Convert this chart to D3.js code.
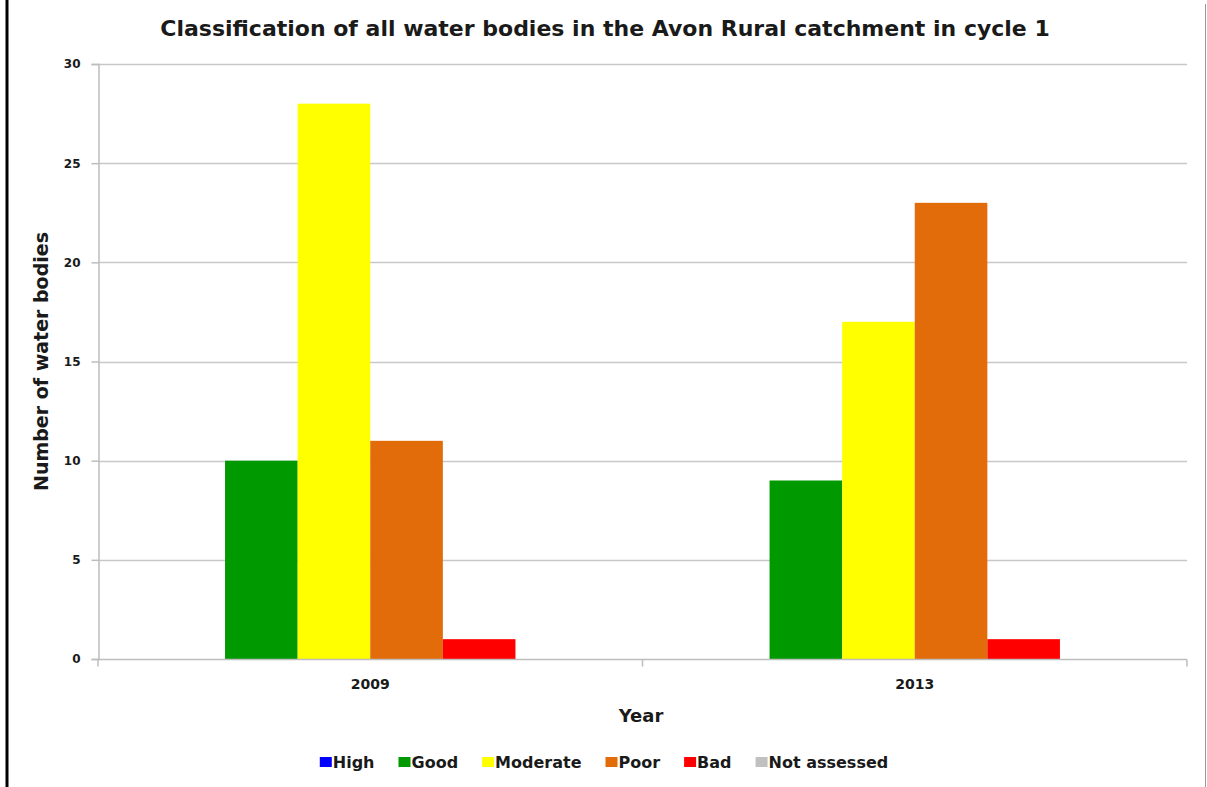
<!DOCTYPE html>
<html>
<head>
<meta charset="utf-8">
<script src="https://cdn.jsdelivr.net/npm/d3@7"></script>
<style>
  body { margin: 0; background: #fff; }
  text { font-family: "DejaVu Sans", Verdana, sans-serif; fill: #1a1a1a; }
</style>
</head>
<body>
<script>
// chart data
const years = ['2009', '2013']
const classes = ['High', 'Good', 'Moderate', 'Poor', 'Bad', 'Not assessed']
const classColors = ['#0000ff', '#009900', '#ffff00', '#e36c0a', '#ff0000', '#c0c0c0']
const counts2009 = [0, 10, 28, 11, 1, 0]
const counts2013 = [0, 9, 17, 23, 1, 0]
const yTicks = [0, 5, 10, 15, 20, 25, 30]

const width = 1207, height = 787
const plot = { left: 98, right: 1187, top: 64, bottom: 659 }
const fontFam = '"DejaVu Sans", Verdana, sans-serif'

const svg = d3.select('body').append('svg')
    .attr('width', width)
    .attr('height', height)

svg.append('rect').attr('width', width).attr('height', height).attr('fill', '#fff')

// frame edges as they appear in the picture
svg.append('line').attr('x1', 7).attr('x2', 7).attr('y1', 0).attr('y2', height)
    .attr('stroke', '#000').attr('stroke-width', 3)
svg.append('line').attr('x1', 1205.5).attr('x2', 1205.5).attr('y1', 4).attr('y2', height)
    .attr('stroke', '#999').attr('stroke-width', 1)

// title
svg.append('text')
    .attr('x', 605).attr('y', 36)
    .attr('text-anchor', 'middle')
    .style('font-size', '22px').style('font-weight', 'bold')
    .text('Classification of all water bodies in the Avon Rural catchment in cycle 1')

// scales
const x0 = d3.scaleBand().domain(years).range([plot.left, plot.right])
const bw = x0.bandwidth()
const x1 = d3.scaleBand().domain(classes).range([bw * 0.1, bw * 0.9])
const yScale = d3.scaleLinear().domain([0, 30]).range([plot.bottom, plot.top])

// gridlines
svg.append('g')
    .selectAll('line').data(yTicks.filter(d => d > 0)).enter()
    .append('line')
    .attr('x1', plot.left).attr('x2', plot.right)
    .attr('y1', d => Math.round(yScale(d)) + 0.5).attr('y2', d => Math.round(yScale(d)) + 0.5)
    .attr('stroke', '#c8c8c8').attr('stroke-width', 1.5)

// y axis
const yAxis = svg.append('g')
    .attr('transform', 'translate(' + (plot.left + 0.5) + ',0)')
    .call(d3.axisLeft(yScale).tickValues(yTicks).tickSizeOuter(0).tickSize(7).tickPadding(11))
yAxis.select('.domain').attr('stroke', '#bdbdbd').attr('stroke-width', 1.5)
yAxis.selectAll('.tick line').attr('stroke', '#bdbdbd').attr('stroke-width', 1.5)
yAxis.selectAll('.tick text')
    .style('font-size', '12px').style('font-weight', 'bold')
    .style('font-family', fontFam).attr('fill', '#1a1a1a')

// bars
const rows = years.map((yr, i) => ({ year: yr, values: i === 0 ? counts2009 : counts2013 }))
const groups = svg.selectAll('.grp').data(rows).enter()
    .append('g')
    .attr('transform', d => 'translate(' + x0(d.year) + ',0)')
groups.selectAll('rect')
    .data(d => d.values.map((v, k) => ({ cls: classes[k], value: v, color: classColors[k] })))
    .enter()
    .append('rect')
    .attr('x', d => x1(d.cls))
    .attr('width', x1.bandwidth())
    .attr('y', d => yScale(d.value))
    .attr('height', d => yScale(0) - yScale(d.value))
    .attr('fill', d => d.color)

// x axis
const xAxis = svg.append('g')
    .attr('transform', 'translate(0,' + (plot.bottom + 0.5) + ')')
    .call(d3.axisBottom(x0).tickSize(0).tickPadding(20))
xAxis.select('.domain').attr('stroke', '#bdbdbd').attr('stroke-width', 1.5)
    .attr('d', 'M' + plot.left + ',0H' + plot.right)
xAxis.selectAll('.tick text')
    .style('font-size', '14px').style('font-weight', 'bold')
    .style('font-family', fontFam).attr('fill', '#1a1a1a')
// category boundary ticks
xAxis.selectAll('.bound').data([plot.left, plot.left + bw, plot.right]).enter()
    .append('line')
    .attr('x1', d => d).attr('x2', d => d)
    .attr('y1', 0).attr('y2', 7)
    .attr('stroke', '#bdbdbd').attr('stroke-width', 1.5)

// axis titles
svg.append('text')
    .attr('transform', 'translate(48,' + ((plot.top + plot.bottom) / 2) + ') rotate(-90)')
    .attr('text-anchor', 'middle')
    .style('font-size', '19px').style('font-weight', 'bold')
    .text('Number of water bodies')

svg.append('text')
    .attr('x', 641).attr('y', 722)
    .attr('text-anchor', 'middle')
    .style('font-size', '18px').style('font-weight', 'bold')
    .text('Year')

// legend
const legend = svg.append('g')
let lx = 0
classes.forEach((c, k) => {
    const g = legend.append('g')
    g.append('rect').attr('x', lx).attr('y', -11).attr('width', 12).attr('height', 10)
        .attr('fill', classColors[k])
    const t = g.append('text').attr('x', lx + 13).attr('y', 0)
        .style('font-size', '16px').style('font-weight', 'bold').attr('fill', '#3a3a3a')
        .text(c)
    lx += 13 + t.node().getComputedTextLength() + 24
})
lx -= 24
legend.attr('transform', 'translate(' + (604 - lx / 2) + ',768)')
</script>
</body>
</html>
